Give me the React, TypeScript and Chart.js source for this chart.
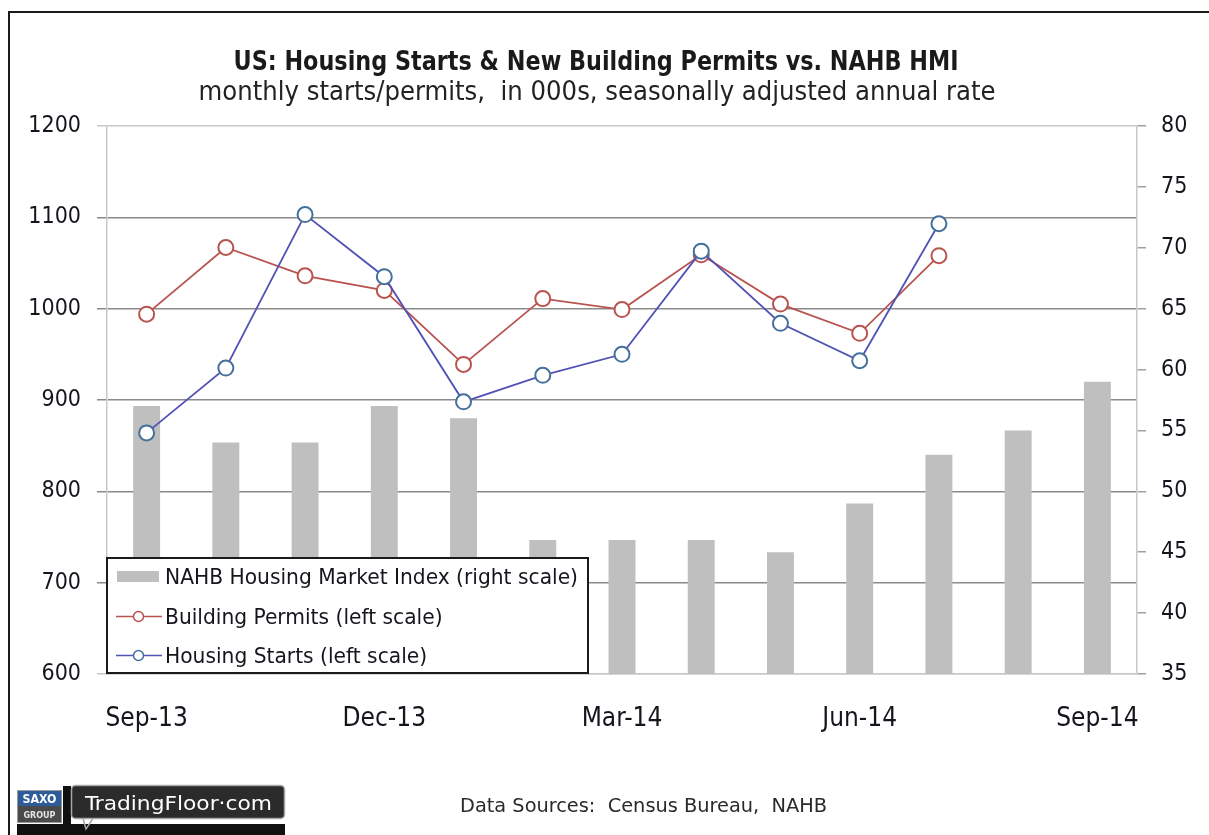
import React, { useEffect, useRef } from "react";
import { Chart, registerables } from "chart.js";

Chart.register(...registerables);

// ---------- data ----------
const months = [
  "Sep-13", "Oct-13", "Nov-13", "Dec-13", "Jan-14", "Feb-14", "Mar-14",
  "Apr-14", "May-14", "Jun-14", "Jul-14", "Aug-14", "Sep-14",
];
const nahbIndex = [57, 54, 54, 57, 56, 46, 46, 46, 45, 49, 53, 55, 59];
const buildingPermits = [994, 1067, 1036, 1020, 939, 1011, 999, 1059, 1005, 973, 1058, null, null];
const housingStarts = [864, 935, 1103, 1035, 898, 927, 950, 1063, 984, 943, 1093, null, null];
const leftAxisTicks = [600, 700, 800, 900, 1000, 1100, 1200];
const rightAxisTicks = [35, 40, 45, 50, 55, 60, 65, 70, 75, 80];
const xAxisLabels = ["Sep-13", "Dec-13", "Mar-14", "Jun-14", "Sep-14"];
const seriesNames = [
  "NAHB Housing Market Index (right scale)",
  "Building Permits (left scale)",
  "Housing Starts (left scale)",
];
const titleText = "US: Housing Starts & New Building Permits vs. NAHB HMI";
const subtitleText = "monthly starts/permits,  in 000s, seasonally adjusted annual rate";
const sourceText = "Data Sources:  Census Bureau,  NAHB";
const logoText = "TradingFloor\u00B7com";

// ---------- style ----------
const FONT = "'DejaVu Sans Condensed', 'DejaVu Sans', sans-serif";
const TEXT = "#15151d";
const BAR = "#bfbfbf";
const PERMIT = "#b9534f";
const STARTS_LINE = "#5252b6";
const STARTS_PT = "#44709c";
const GRID_DARK = "#8a8a8a";
const GRID_LIGHT = "#c8c8c8";

function fitText(
  ctx: CanvasRenderingContext2D,
  text: string,
  x: number,
  y: number,
  font: string,
  color: string,
  width: number,
  align: CanvasTextAlign
) {
  ctx.save();
  ctx.font = font;
  const w = ctx.measureText(text).width;
  const k = width / w;
  ctx.translate(x, y);
  ctx.scale(k, 1);
  ctx.textAlign = align;
  ctx.textBaseline = "alphabetic";
  ctx.fillStyle = color;
  ctx.fillText(text, 0, 0);
  ctx.restore();
}

const decorPlugin = {
  id: "decor",
  afterDatasetsDraw(chart: any) {
    const ctx: CanvasRenderingContext2D = chart.ctx;
    const area = chart.chartArea;
    ctx.save();

    // legend box
    const lx = area.left;
    const ly = 558;
    const lw = 588 - lx;
    const lh = area.bottom - 1 - ly;
    ctx.fillStyle = "#ffffff";
    ctx.fillRect(lx, ly, lw, lh);
    ctx.strokeStyle = "#1a1a1a";
    ctx.lineWidth = 2;
    ctx.strokeRect(lx, ly, lw, lh);

    const ds = chart.data.datasets;
    const rowY = [577, 616.5, 655.5];
    const legendFont = `21px ${FONT}`;
    ctx.font = legendFont;
    const k = 413 / ctx.measureText(seriesNames[0]).width;
    seriesNames.forEach((name, i) => {
      const cy = rowY[i];
      const d = ds[i];
      if (d.type === "bar") {
        ctx.fillStyle = d.backgroundColor;
        ctx.fillRect(117, cy - 6, 42, 11);
      } else {
        ctx.strokeStyle = d.borderColor;
        ctx.lineWidth = 1.6;
        ctx.beginPath();
        ctx.moveTo(116, cy);
        ctx.lineTo(162, cy);
        ctx.stroke();
        ctx.beginPath();
        ctx.arc(138.5, cy, 5, 0, Math.PI * 2);
        ctx.fillStyle = "#ffffff";
        ctx.fill();
        ctx.strokeStyle = d.pointBorderColor;
        ctx.lineWidth = 1.5;
        ctx.stroke();
      }
      ctx.save();
      ctx.font = legendFont;
      ctx.translate(165, cy + 7);
      ctx.scale(k, 1);
      ctx.fillStyle = TEXT;
      ctx.textAlign = "left";
      ctx.textBaseline = "alphabetic";
      ctx.fillText(name, 0, 0);
      ctx.restore();
    });
    ctx.restore();
  },
  afterDraw(chart: any) {
    const ctx: CanvasRenderingContext2D = chart.ctx;
    ctx.save();
    // outer frame (top + left)
    ctx.strokeStyle = "#1a1a1a";
    ctx.lineWidth = 2;
    ctx.beginPath();
    ctx.moveTo(9, 835);
    ctx.lineTo(9, 12);
    ctx.lineTo(1209, 12);
    ctx.stroke();

    // titles
    fitText(ctx, titleText, 596, 70, `bold 27px ${FONT}`, "#1a1a1a", 725, "center");
    fitText(ctx, subtitleText, 597, 100, `26px ${FONT}`, "#222222", 797, "center");

    // source
    fitText(ctx, sourceText, 460, 812, `20px ${FONT}`, "#2a2a2a", 367, "left");

    // logo: SAXO group box
    ctx.fillStyle = "#111111";
    ctx.fillRect(17, 824, 268, 11);
    ctx.fillRect(63, 786, 8, 49);
    ctx.fillStyle = "#2d5c9a";
    ctx.fillRect(17, 790, 45, 16);
    ctx.fillStyle = "#4a4a4a";
    ctx.fillRect(17, 806, 45, 17);
    ctx.strokeStyle = "#9a9a9a";
    ctx.lineWidth = 1;
    ctx.strokeRect(17.5, 790.5, 44, 32);
    fitText(ctx, "SAXO", 39.5, 803, `bold 13px ${FONT}`, "#ffffff", 34, "center");
    fitText(ctx, "GROUP", 39.5, 818, `bold 9px ${FONT}`, "#e6e6e6", 32, "center");

    // TradingFloor box
    ctx.beginPath();
    ctx.roundRect(71.5, 785.5, 213, 33, 4);
    ctx.fillStyle = "#2b2b2b";
    ctx.fill();
    ctx.strokeStyle = "#a8a8a8";
    ctx.lineWidth = 1.5;
    ctx.stroke();
    ctx.beginPath();
    ctx.moveTo(83, 818.5);
    ctx.lineTo(86, 829);
    ctx.lineTo(93, 818.5);
    ctx.strokeStyle = "#a8a8a8";
    ctx.stroke();
    fitText(ctx, logoText, 85, 810, `20px ${FONT}`, "#ffffff", 187, "left");
    ctx.restore();
  },
};

export default function App() {
  const canvasRef = useRef<HTMLCanvasElement | null>(null);

  useEffect(() => {
    const canvas = canvasRef.current;
    if (!canvas) return;
    const chart = new Chart(canvas, {
      type: "bar",
      data: {
        labels: months,
        datasets: [
          {
            type: "bar",
            label: seriesNames[0],
            data: nahbIndex,
            yAxisID: "yR",
            backgroundColor: BAR,
            barPercentage: 0.34,
            categoryPercentage: 1,
            order: 3,
          } as any,
          {
            type: "line",
            label: seriesNames[1],
            data: buildingPermits,
            yAxisID: "yL",
            borderColor: PERMIT,
            borderWidth: 1.8,
            pointRadius: 7.5,
            pointBorderWidth: 2,
            pointBorderColor: PERMIT,
            pointBackgroundColor: "#ffffff",
            tension: 0,
            order: 2,
          },
          {
            type: "line",
            label: seriesNames[2],
            data: housingStarts,
            yAxisID: "yL",
            borderColor: STARTS_LINE,
            borderWidth: 1.8,
            pointRadius: 7.5,
            pointBorderWidth: 2,
            pointBorderColor: STARTS_PT,
            pointBackgroundColor: "#ffffff",
            tension: 0,
            order: 1,
          },
        ],
      },
      options: {
        animation: false,
        responsive: false,
        maintainAspectRatio: false,
        devicePixelRatio: 1,
        layout: { padding: { top: 126, left: 0, right: 0, bottom: 0 } },
        plugins: {
          legend: { display: false },
          tooltip: { enabled: false },
          title: { display: false },
        },
        scales: {
          x: {
            type: "category",
            offset: true,
            grid: { display: false },
            border: { display: true, color: GRID_LIGHT, width: 1.5 },
            ticks: {
              autoSkip: false,
              maxRotation: 0,
              padding: 22,
              color: TEXT,
              font: { family: FONT, size: 26 },
              callback: (_v: any, i: number) =>
                xAxisLabels.includes(months[i]) ? months[i] : "",
            },
            afterFit: (s: any) => {
              s.height = 161;
            },
          },
          yL: {
            type: "linear",
            position: "left",
            min: leftAxisTicks[0],
            max: leftAxisTicks[leftAxisTicks.length - 1],
            afterBuildTicks: (s: any) => {
              s.ticks = leftAxisTicks.map((v) => ({ value: v }));
            },
            grid: {
              color: (c: any) =>
                c.tick && (c.tick.value === 600 || c.tick.value === 1200) ? GRID_LIGHT : GRID_DARK,
              lineWidth: 1.5,
              tickLength: 10,
              drawTicks: true,
            },
            border: { display: true, color: GRID_LIGHT, width: 1.5 },
            ticks: {
              padding: 16,
              color: TEXT,
              font: { family: FONT, size: 23 },
              callback: (v: any) => String(v),
            },
            afterFit: (s: any) => {
              s.width = 107;
            },
          },
          yR: {
            type: "linear",
            position: "right",
            min: rightAxisTicks[0],
            max: rightAxisTicks[rightAxisTicks.length - 1],
            afterBuildTicks: (s: any) => {
              s.ticks = rightAxisTicks.map((v) => ({ value: v }));
            },
            grid: {
              drawOnChartArea: false,
              color: "#a0a0a0",
              lineWidth: 1.5,
              tickLength: 9,
            },
            border: { display: true, color: GRID_LIGHT, width: 1.5 },
            ticks: {
              padding: 15,
              color: TEXT,
              font: { family: FONT, size: 23 },
              callback: (v: any) => String(v),
            },
            afterFit: (s: any) => {
              s.width = 72;
            },
          },
        },
      },
      plugins: [decorPlugin],
    });
    return () => chart.destroy();
  }, []);

  return (
    <div
      style={{
        position: "fixed",
        left: 0,
        top: 0,
        width: 1209,
        height: 835,
        background: "#ffffff",
        overflow: "hidden",
      }}
    >
      <canvas ref={canvasRef} width={1209} height={835} style={{ display: "block" }} />
    </div>
  );
}
